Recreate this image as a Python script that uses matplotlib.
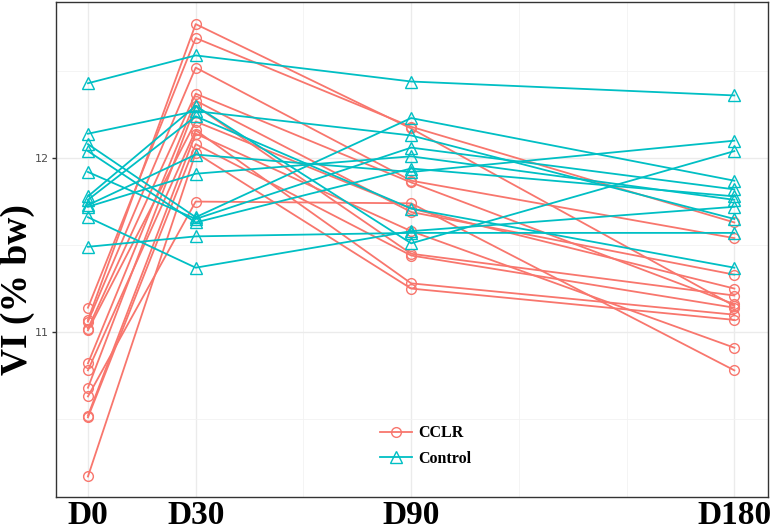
import matplotlib.pyplot as plt

days = [0, 30, 90, 180]
day_labels = ['D0', 'D30', 'D90', 'D180']

# VI (% bw) per subject at D0, D30, D90, D180
cclr = [
    [11.14, 12.69, 12.18, 11.63],
    [11.07, 12.77, 12.17, 11.15],
    [11.06, 12.52, 11.87, 11.54],
    [11.02, 12.37, 11.86, 11.16],
    [11.01, 12.21, 11.71, 11.25],
    [10.82, 12.33, 11.69, 11.33],
    [10.78, 12.16, 11.28, 11.10],
    [10.68, 12.30, 11.45, 11.21],
    [10.63, 11.75, 11.74, 10.78],
    [10.52, 12.14, 11.58, 10.91],
    [10.51, 12.08, 11.44, 11.14],
    [10.17, 12.03, 11.25, 11.07],
]
control = [
    [12.43, 12.59, 12.44, 12.36],
    [12.14, 12.27, 12.13, 11.65],
    [12.08, 11.66, 12.23, 11.87],
    [12.04, 11.63, 11.94, 11.78],
    [11.92, 11.65, 12.06, 11.82],
    [11.78, 12.30, 11.51, 12.04],
    [11.76, 12.24, 11.71, 11.37],
    [11.73, 12.02, 11.92, 12.10],
    [11.72, 11.91, 12.01, 11.76],
    [11.66, 11.37, 11.58, 11.72],
    [11.49, 11.55, 11.57, 11.57],
]

red = '#F8766D'
teal = '#00BFC4'
serif = ['Liberation Serif', 'DejaVu Serif']

fig = plt.figure(figsize=(7.83, 5.25), dpi=100)
ax = fig.add_axes([0.0715, 0.0533, 0.9095, 0.9429])

for i, row in enumerate(cclr):
    ax.plot(days, row, color=red, lw=1.3, marker='o', ms=7, mfc='none',
            mew=1.0, label='CCLR' if i == 0 else None)
for i, row in enumerate(control):
    ax.plot(days, row, color=teal, lw=1.3, marker='^', ms=8, mfc='none',
            mew=1.0, label='Control' if i == 0 else None)

ax.set_xlim(-8.9, 189.4)
ax.set_ylim(10.052, 12.897)
ax.set_xticks(days)
ax.set_xticks([60, 120, 150], minor=True)
ax.set_xticklabels(day_labels, family=serif, fontweight='bold', fontsize=24)
ax.set_yticks([11, 12])
ax.set_yticks([10.5, 11.5, 12.5], minor=True)
ax.set_yticklabels(['11', '12'], fontsize=8, color='#4d4d4d')
ax.tick_params(axis='x', length=0, pad=2)
ax.tick_params(axis='y', length=3, width=1, color='#333333', pad=2)
ax.tick_params(which='minor', length=0)
ax.grid(True, which='major', color='#ebebeb', lw=1.0)
ax.grid(True, which='minor', color='#f2f2f2', lw=0.6)
ax.set_axisbelow(True)
for s in ax.spines.values():
    s.set_color('#333333')
    s.set_linewidth(1.0)

fig.text(0.022, 0.448, 'VI (% bw)', rotation=90, ha='center', va='center',
         family=serif, fontweight='bold', fontsize=27)

ax.legend(loc='center left', bbox_to_anchor=(0.455, 0.103), frameon=False,
          prop={'family': serif, 'weight': 'bold', 'size': 11.5},
          borderaxespad=0, borderpad=0, handlelength=2.0,
          handletextpad=0.4, labelspacing=0.6)

fig.savefig('out.png', dpi=100)
